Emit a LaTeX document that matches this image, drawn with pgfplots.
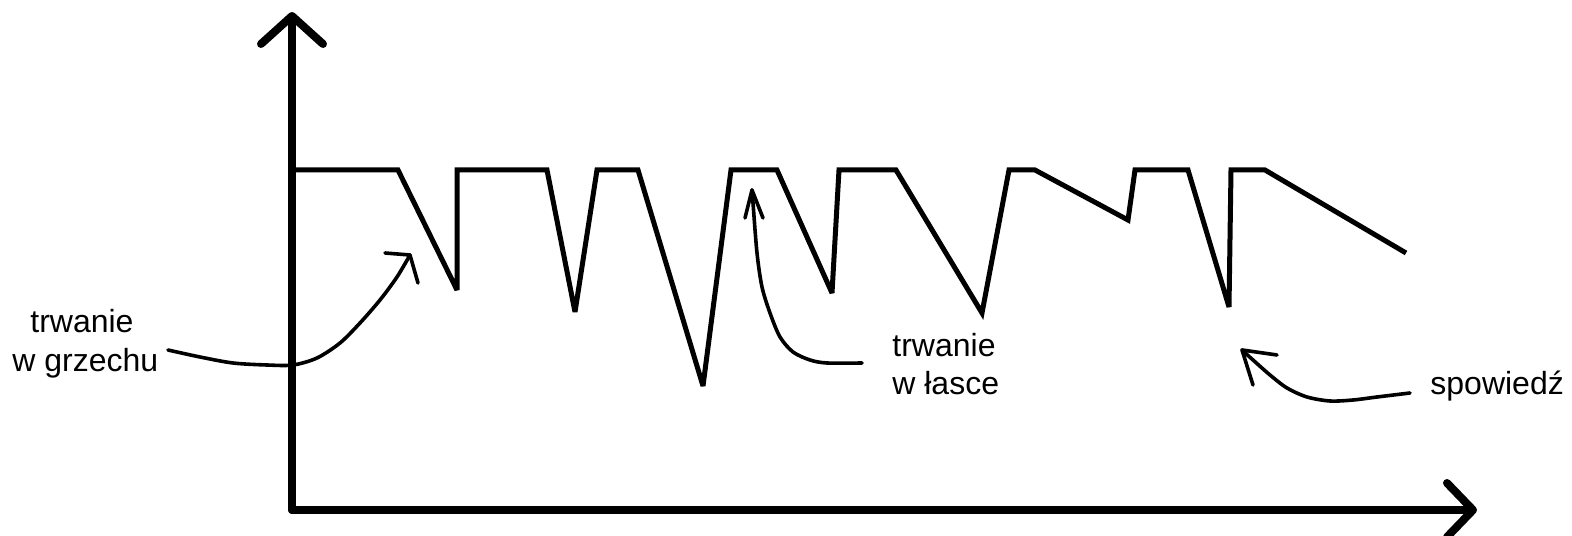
\documentclass[border=0pt]{standalone}
\usepackage{pgfplots}
\pgfplotsset{compat=1.18}
\usepackage{fontspec}
\setmainfont{Liberation Sans}
\usetikzlibrary{arrows.meta}
\begin{document}
\fontsize{16pt}{19pt}\selectfont
\begin{tikzpicture}
\begin{axis}[
  scale only axis,
  width=592.5pt, height=249pt,
  xmin=0, xmax=1185, ymin=0, ymax=498,
  axis lines=left,
  ticks=none,
  clip=false,
  x axis line style={line width=4pt, line cap=round, -{Straight Barb[length=13pt, width=27pt, round]}},
  y axis line style={line width=4pt, line cap=round, -{Straight Barb[length=14pt, width=31pt, round]}},
]
\coordinate (BL) at (axis cs:-292,-25);
\coordinate (TR) at (axis cs:1280,510);
% main series
\addplot[black, line width=2.5pt, line join=miter, miter limit=4] coordinates {
(1,340) (106,340) (165,220) (165,340) (255,340) (283,198) (305,340) (346,340)
(411,124) (439,340) (485,340) (540,217) (547,340) (604,340) (690,197) (717,340)
(743,340) (836,290) (843,340) (896,340) (937,203) (939,340) (973,340) (1114,257)
};
% annotation: trwanie w grzechu
\addplot[black, line width=1.8pt, smooth, tension=0.5, line cap=round] coordinates {
(-124,160) (-92,153) (-59,147) (-25,145) (1,145) (25,152) (48,167) (68,187) (88,210) (105,233) (118,255)
};
\addplot[black, line width=1.8pt, line cap=round, line join=round] coordinates {
(93,257) (118,255) (126,227)
};
% annotation: trwanie w lasce
\addplot[black, line width=1.8pt, smooth, tension=0.5, line cap=round] coordinates {
(570,147) (535,147) (518,150) (501,158) (488,173) (478,197) (470,223) (465,257) (461,307) (460,320)
};
\addplot[black, line width=1.8pt, line cap=round, line join=round] coordinates {
(453,292) (460,320) (471,292)
};
% annotation: spowiedz
\addplot[black, line width=1.8pt, smooth, tension=0.5, line cap=round] coordinates {
(1118,117) (1085,113) (1061,110) (1038,109) (1015,113) (995,122) (978,135) (961,150) (950,160)
};
\addplot[black, line width=1.8pt, line cap=round, line join=round] coordinates {
(985,155) (950,160) (961,125)
};
% labels
\node[anchor=base west, inner sep=0pt] at (axis cs:-262,177) {trwanie};
\node[anchor=base west, inner sep=0pt] at (axis cs:-280,138) {w grzechu};
\node[anchor=base west, inner sep=0pt] at (axis cs:600,153) {trwanie};
\node[anchor=base west, inner sep=0pt] at (axis cs:600,115) {w łasce};
\node[anchor=base west, inner sep=0pt] at (axis cs:1138,115) {spowiedź};
\end{axis}
\pgfresetboundingbox
\path[use as bounding box] (BL) rectangle (TR);
\end{tikzpicture}
\end{document}
